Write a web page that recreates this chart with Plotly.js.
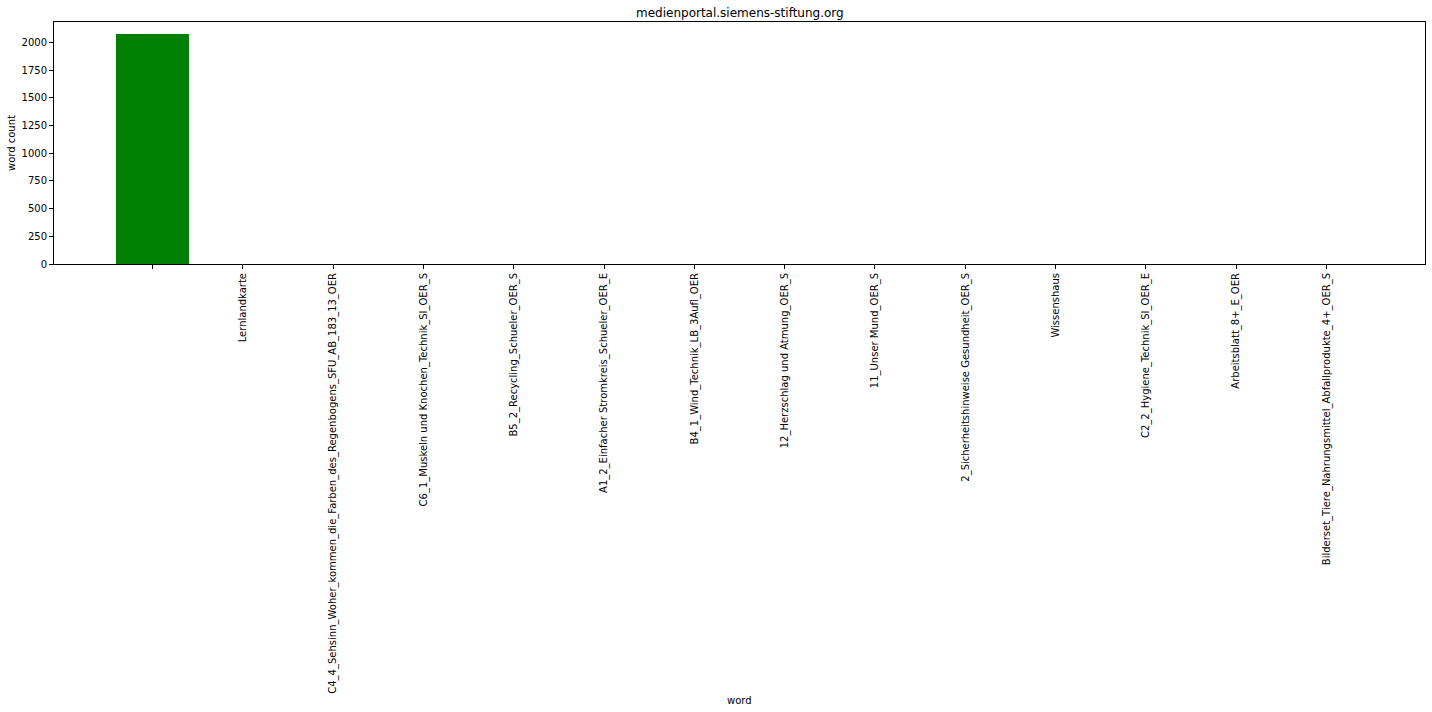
<!DOCTYPE html>
<html>
<head>
<meta charset="utf-8">
<script src="https://cdn.plot.ly/plotly-3.0.1.min.js"></script>
<style>html,body{margin:0;padding:0;background:#fff;}#chart{width:1432px;height:712px;}</style>
</head>
<body>
<div id="chart"></div>
<script>
const categories = [
  "",
  "Lernlandkarte",
  "C4_4_Sehsinn_Woher_kommen_die_Farben_des_Regenbogens_SFU_AB_183_13_OER",
  "C6_1_Muskeln und Knochen_Technik_SI_OER_S",
  "B5_2_Recycling_Schueler_OER_S",
  "A1_2_Einfacher Stromkreis_Schueler_OER_E",
  "B4_1_Wind_Technik_LB_3Aufl_OER",
  "12_Herzschlag und Atmung_OER_S",
  "11_Unser Mund_OER_S",
  "2_Sicherheitshinweise Gesundheit_OER_S",
  "Wissenshaus",
  "C2_2_Hygiene_Technik_SI_OER_E",
  "Arbeitsblatt_8+_E_OER",
  "Bilderset_Tiere_Nahrungsmittel_Abfallprodukte_4+_OER_S"
];
const wordCounts = [2080, 1, 1, 1, 1, 1, 1, 1, 1, 1, 1, 1, 1, 1];
const positions = categories.map((_, i) => i);

const font = {family: "DejaVu Sans, sans-serif", size: 10, color: "#000"};

const trace = {
  type: "bar",
  x: positions,
  y: wordCounts,
  width: 0.8,
  marker: {color: "#008000", line: {width: 0}},
  hoverinfo: "x+y"
};

const layout = {
  width: 1432,
  height: 712,
  margin: {l: 54, r: 7, t: 22, b: 448},
  paper_bgcolor: "#fff",
  plot_bgcolor: "#fff",
  font: font,
  showlegend: false,
  bargap: 0,
  xaxis: {
    type: "linear",
    range: [-1.09, 14.09],
    tickmode: "array",
    tickvals: positions,
    ticktext: categories,
    tickangle: -90,
    ticks: "outside",
    ticklen: 4,
    tickwidth: 1,
    tickcolor: "#000",
    showgrid: false,
    zeroline: false,
    showline: true,
    linecolor: "#000",
    linewidth: 1,
    mirror: true,
    tickfont: font,
    automargin: false
  },
  yaxis: {
    range: [0, 2184],
    tickmode: "array",
    tickvals: [0, 250, 500, 750, 1000, 1250, 1500, 1750, 2000],
    ticks: "outside",
    ticklen: 4,
    tickwidth: 1,
    tickcolor: "#000",
    showgrid: false,
    zeroline: false,
    showline: true,
    linecolor: "#000",
    linewidth: 1,
    mirror: true,
    tickfont: font,
    automargin: false
  },
  annotations: [
    {text: "medienportal.siemens-stiftung.org", xref: "paper", yref: "paper", x: 0.5, y: 1, yshift: 9, xanchor: "center", yanchor: "middle", showarrow: false, font: {family: font.family, size: 12, color: "#000"}},
    {text: "word", xref: "paper", yref: "paper", x: 0.5, y: 0, yshift: -436, xanchor: "center", yanchor: "middle", showarrow: false, font: font},
    {text: "word count", xref: "paper", yref: "paper", x: 0, y: 0.5, xshift: -43, xanchor: "center", yanchor: "middle", textangle: -90, showarrow: false, font: font}
  ]
};

Plotly.newPlot("chart", [trace], layout, {displayModeBar: false, responsive: false, staticPlot: true});
</script>
</body>
</html>
